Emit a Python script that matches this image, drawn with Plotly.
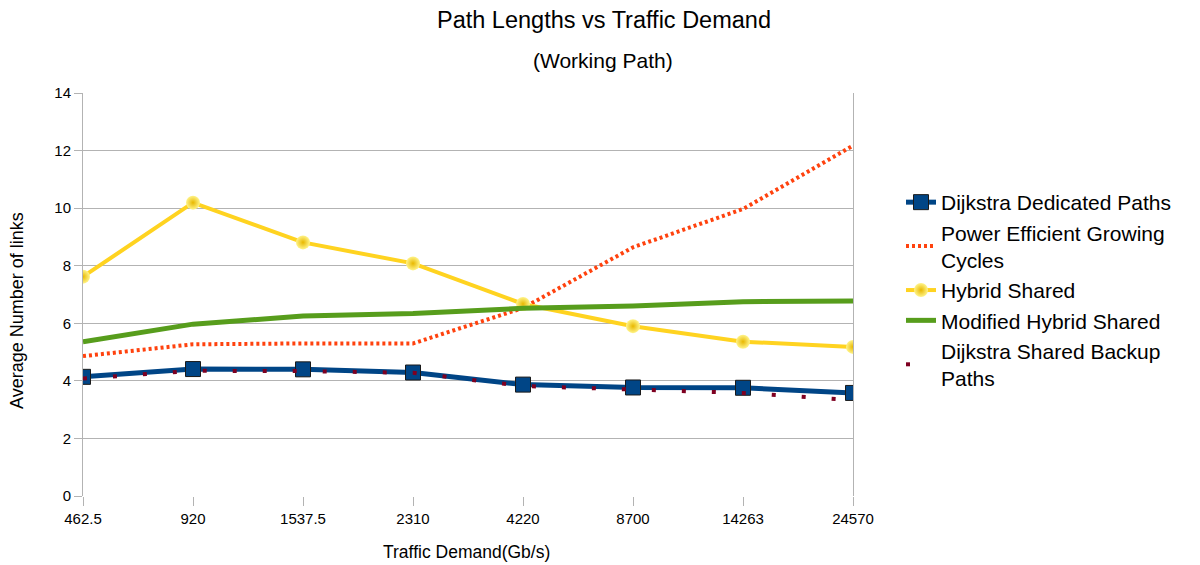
import plotly.graph_objects as go

categories = ["462.5", "920", "1537.5", "2310", "4220", "8700", "14263", "24570"]
dijkstra_dedicated = [4.14, 4.41, 4.40, 4.29, 3.87, 3.77, 3.76, 3.58]
power_efficient = [4.86, 5.27, 5.30, 5.30, 6.53, 8.64, 9.97, 12.17]
hybrid_shared = [7.62, 10.19, 8.81, 8.08, 6.67, 5.90, 5.36, 5.18]
modified_hybrid = [5.36, 5.97, 6.25, 6.34, 6.52, 6.60, 6.75, 6.77]
dijkstra_backup = [4.08, 4.35, 4.34, 4.28, 3.82, 3.70, 3.58, 3.33]

FONT = "Liberation Sans, Arial, sans-serif"

W, H = 1200, 565
ML, MR, MT, MB = 83, 347, 93, 69
PW, PH = W - ML - MR, H - MT - MB


def px_x(x):
    return (x - ML) / PW


def px_y(y):
    return (H - MB - y) / PH


fig = go.Figure()
fig.add_trace(go.Scatter(
    x=categories, y=dijkstra_dedicated, name="Dijkstra Dedicated Paths",
    mode="lines+markers",
    line=dict(color="#004586", width=5),
    marker=dict(symbol="square", size=15, color="#004586", line=dict(color="#1a1a1a", width=1)),
))
fig.add_trace(go.Scatter(
    x=categories, y=power_efficient, name="Power Efficient Growing<br>Cycles",
    mode="lines",
    line=dict(color="#ff420e", width=4, dash="3px,3px"),
))
fig.add_trace(go.Scatter(
    x=categories, y=hybrid_shared, name="Hybrid Shared",
    mode="lines+markers",
    line=dict(color="#ffd320", width=4),
    marker=dict(symbol="circle", size=14, color="#fff48a",
                gradient=dict(type="radial", color="#e8b800"),
                line=dict(width=0)),
))
fig.add_trace(go.Scatter(
    x=categories, y=modified_hybrid, name="Modified Hybrid Shared",
    mode="lines",
    line=dict(color="#579d1c", width=5),
))
fig.add_trace(go.Scatter(
    x=categories, y=dijkstra_backup, name="Dijkstra Shared Backup<br>Paths",
    mode="lines",
    line=dict(color="#7e0021", width=4, dash="4px,26px"),
))

fig.update_layout(
    width=W, height=H,
    margin=dict(l=ML, r=MR, t=MT, b=MB, autoexpand=False),
    paper_bgcolor="white", plot_bgcolor="white",
    font=dict(family=FONT, size=15, color="#000000"),
    showlegend=True,
    legend=dict(
        x=px_x(901), xanchor="left", y=px_y(182), yanchor="top",
        font=dict(family=FONT, size=21, color="#000000"),
        itemwidth=30, tracegroupgap=0,
    ),
    annotations=[
        dict(text="Path Lengths vs Traffic Demand", x=px_x(604), y=px_y(20),
             xref="paper", yref="paper", xanchor="center", yanchor="middle",
             showarrow=False, font=dict(family=FONT, size=23.5)),
        dict(text="(Working Path)", x=px_x(603), y=px_y(60),
             xref="paper", yref="paper", xanchor="center", yanchor="middle",
             showarrow=False, font=dict(family=FONT, size=21)),
        dict(text="Traffic Demand(Gb/s)", x=px_x(466), y=px_y(552),
             xref="paper", yref="paper", xanchor="center", yanchor="middle",
             showarrow=False, font=dict(family=FONT, size=17.5)),
        dict(text="Average Number of links", x=px_x(17), y=px_y(311),
             xref="paper", yref="paper", xanchor="center", yanchor="middle",
             textangle=-90, showarrow=False, font=dict(family=FONT, size=18)),
    ],
)

fig.update_xaxes(
    type="category", range=[0, 7], automargin=False,
    showgrid=False, showline=False, zeroline=False,
    ticks="outside", ticklen=9, tickcolor="#b3b3b3", tickwidth=1,
    tickfont=dict(family=FONT, size=15),
)
fig.update_yaxes(
    range=[0, 14], dtick=2, automargin=False,
    showgrid=True, gridcolor="#b3b3b3", gridwidth=1,
    showline=True, linecolor="#b3b3b3", linewidth=1, mirror=True,
    zeroline=False,
    ticks="outside", ticklen=8, tickcolor="#b3b3b3",
    tickfont=dict(family=FONT, size=15),
)

fig.write_html("out.html", config={"displayModeBar": False},
               post_script="document.body.style.margin='0';")
